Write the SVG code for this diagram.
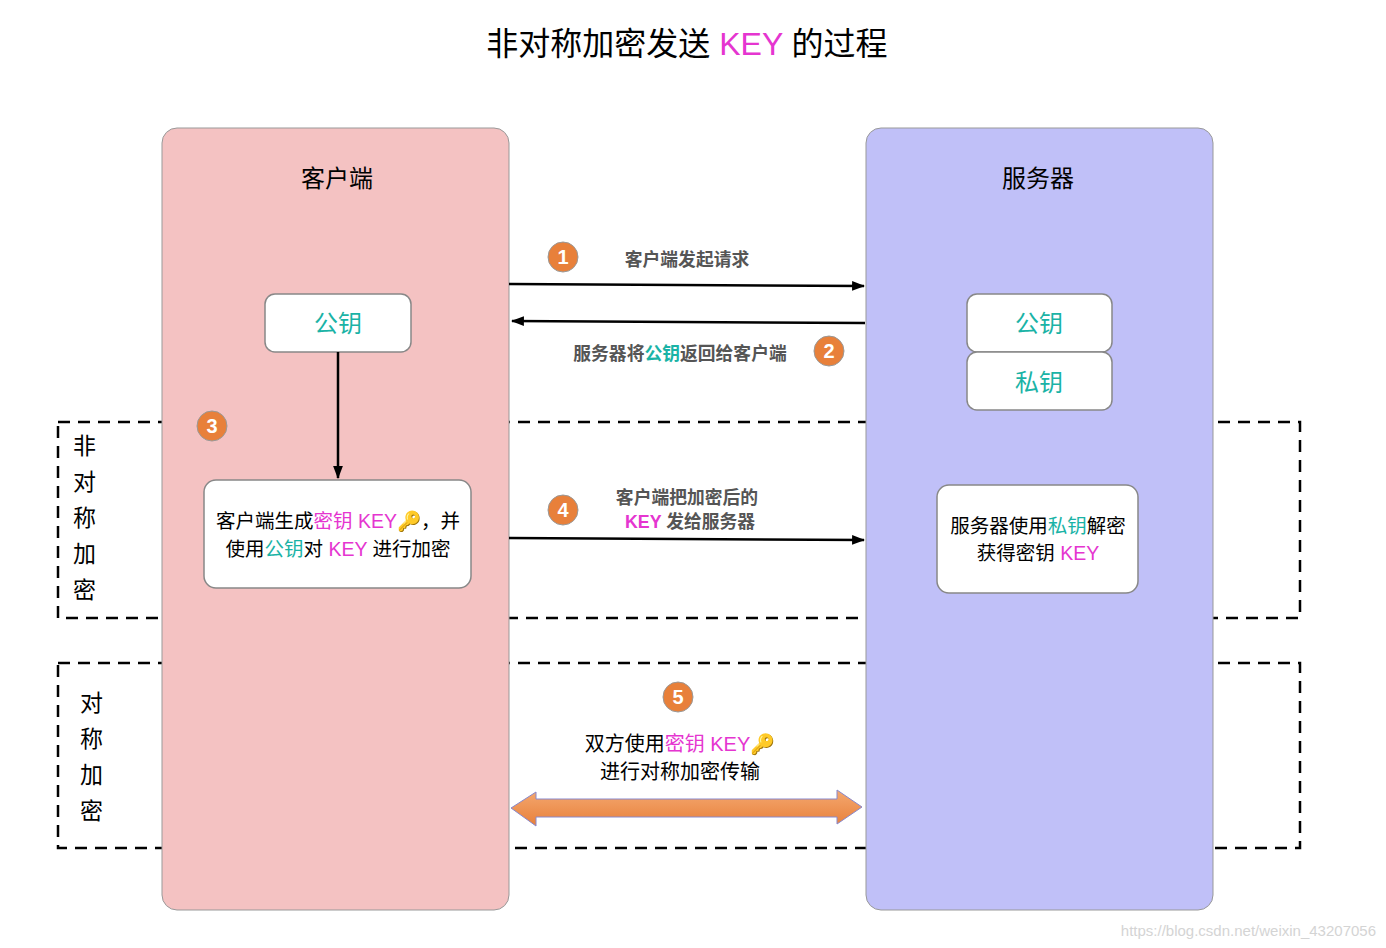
<svg xmlns="http://www.w3.org/2000/svg" width="1386" height="948" viewBox="0 0 1386 948">
<style>
text{font-family:"Liberation Sans","Noto Sans CJK SC",sans-serif;}
.lane{stroke:#999;stroke-width:1}
.box{fill:#fff;stroke:#888;stroke-width:1.5}
.dash{fill:none;stroke:#000;stroke-width:2.5;stroke-dasharray:12 8}
.teal{fill:#1ab3a6}
.mag{fill:#e535d0}
.lbl{fill:#555;font-size:17.8px;font-weight:bold}
.num circle{fill:#e8803a;stroke:#999;stroke-width:1}
.num text{fill:#fff;font-size:20px;font-weight:bold;text-anchor:middle}
.conn line{stroke:#000;stroke-width:2.5}
</style>
<defs>
<marker id="ah" viewBox="0 0 12 10" refX="11" refY="5" markerWidth="13" markerHeight="11" orient="auto" markerUnits="userSpaceOnUse">
<path d="M0,0.5 L12,5 L0,9.5 Z" fill="#000"/>
</marker>
<linearGradient id="og" x1="0" y1="0" x2="0" y2="1">
<stop offset="0" stop-color="#f4a870"/>
<stop offset="1" stop-color="#e8803a"/>
</linearGradient>
</defs>
<rect width="1386" height="948" fill="#fff"/>
<text x="687" y="55" font-size="32" text-anchor="middle" fill="#000">非对称加密发送 <tspan class="mag">KEY</tspan> 的过程</text>
<g id="groups">
<rect class="dash" x="58" y="422" width="1242" height="196"/>
<rect class="dash" x="58" y="663" width="1242" height="185"/>
</g>
<g id="client">
<rect class="lane" x="162" y="128" width="347" height="782" rx="15" fill="#f4c2c2"/>
<text x="337" y="187" font-size="24" text-anchor="middle">客户端</text>
</g>
<g id="server">
<rect class="lane" x="866" y="128" width="347" height="782" rx="15" fill="#c0c0f8"/>
<text x="1038" y="187" font-size="24" text-anchor="middle">服务器</text>
</g>
<g id="label-asym" font-size="23">
<text x="73" y="454">非</text><text x="73" y="490">对</text><text x="73" y="526">称</text><text x="73" y="562">加</text><text x="73" y="598">密</text>
</g>
<g id="label-sym" font-size="23">
<text x="80" y="711">对</text><text x="80" y="747">称</text><text x="80" y="783">加</text><text x="80" y="819">密</text>
</g>
<g id="client-pubkey">
<rect class="box" x="265" y="294" width="146" height="58" rx="10"/>
<text x="338" y="332" font-size="24" text-anchor="middle" class="teal">公钥</text>
</g>
<g id="server-pubkey">
<rect class="box" x="967" y="294" width="145" height="58" rx="10"/>
<text x="1039" y="332" font-size="24" text-anchor="middle" class="teal">公钥</text>
</g>
<g id="server-privkey">
<rect class="box" x="967" y="352" width="145" height="58" rx="10"/>
<text x="1039" y="391" font-size="24" text-anchor="middle" class="teal">私钥</text>
</g>
<g id="client-gen">
<rect class="box" x="204" y="480" width="267" height="108" rx="12"/>
<text x="338" y="528" font-size="19.5" text-anchor="middle">客户端生成<tspan class="mag">密钥 KEY</tspan>🔑，并</text>
<text x="338" y="556" font-size="19.5" text-anchor="middle">使用<tspan class="teal">公钥</tspan>对 <tspan class="mag">KEY</tspan>  进行加密</text>
</g>
<g id="server-dec">
<rect class="box" x="937" y="485" width="201" height="108" rx="12"/>
<text x="1038" y="533" font-size="19.5" text-anchor="middle">服务器使用<tspan class="teal">私钥</tspan>解密</text>
<text x="1038" y="560" font-size="19.5" text-anchor="middle">获得密钥 <tspan class="mag">KEY</tspan></text>
</g>
<g id="connectors" class="conn">
<line x1="509" y1="284" x2="864" y2="286" marker-end="url(#ah)"/>
<line x1="865" y1="323" x2="512" y2="321" marker-end="url(#ah)"/>
<line x1="338" y1="352" x2="338" y2="478" marker-end="url(#ah)" stroke-width="1.5"/>
<line x1="509" y1="538" x2="864" y2="540" marker-end="url(#ah)"/>
<path d="M511,808 L536,792 L536,799 L837,799 L837,790 L862,807 L837,824 L837,817 L536,817 L536,826 Z" fill="url(#og)" stroke="#8888cc" stroke-width="1"/>
</g>
<g id="labels">
<text class="lbl" x="687" y="266" text-anchor="middle">客户端发起请求</text>
<text class="lbl" x="680" y="360" text-anchor="middle">服务器将<tspan class="teal">公钥</tspan>返回给客户端</text>
<text class="lbl" x="687" y="504" text-anchor="middle">客户端把加密后的</text>
<text class="lbl" x="690" y="528" text-anchor="middle"><tspan class="mag">KEY</tspan> 发给服务器</text>
<text x="680" y="751" font-size="20" text-anchor="middle">双方使用<tspan class="mag">密钥 KEY</tspan>🔑</text>
<text x="680" y="779" font-size="20" text-anchor="middle">进行对称加密传输</text>
</g>
<g id="badges">
<g class="num"><circle cx="563" cy="257" r="15"/><text x="563" y="264">1</text></g>
<g class="num"><circle cx="829" cy="351" r="15"/><text x="829" y="358">2</text></g>
<g class="num"><circle cx="212" cy="426" r="15"/><text x="212" y="433">3</text></g>
<g class="num"><circle cx="563" cy="510" r="15"/><text x="563" y="517">4</text></g>
<g class="num"><circle cx="678" cy="697" r="15"/><text x="678" y="704">5</text></g>
</g>
<text x="1376" y="936" font-size="15" text-anchor="end" fill="#d4d4d4">https://blog.csdn.net/weixin_43207056</text>
</svg>
